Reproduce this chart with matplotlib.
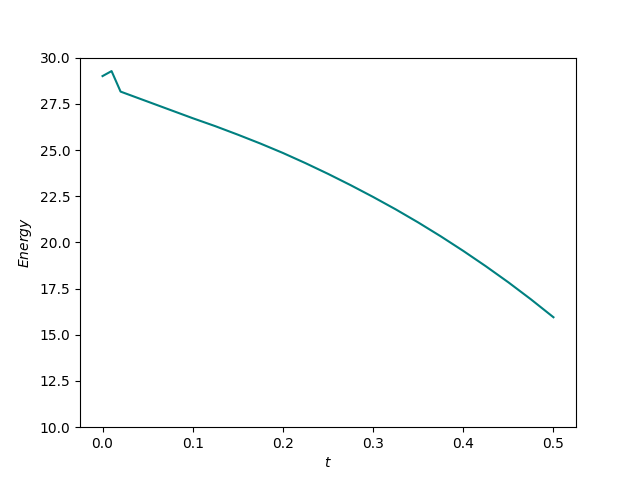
import matplotlib
matplotlib.use("Agg")
import matplotlib.pyplot as plt

# Energy over time
t = [0.0, 0.01, 0.02, 0.05, 0.075, 0.10, 0.125, 0.15, 0.175, 0.20, 0.225, 0.25,
     0.275, 0.30, 0.325, 0.35, 0.375, 0.40, 0.425, 0.45, 0.475, 0.50]
energy = [29.0, 29.27, 28.16, 27.62, 27.17, 26.72, 26.29, 25.83, 25.35, 24.84, 24.29, 23.71,
          23.10, 22.46, 21.79, 21.08, 20.33, 19.54, 18.71, 17.84, 16.92, 15.95]

fig, ax = plt.subplots(figsize=(6.4, 4.8), dpi=100)
ax.plot(t, energy, color='teal')
ax.set_ylim(10, 30)
ax.set_xlabel('$t$')
ax.set_ylabel('$Energy$')

fig.savefig('out.png')
